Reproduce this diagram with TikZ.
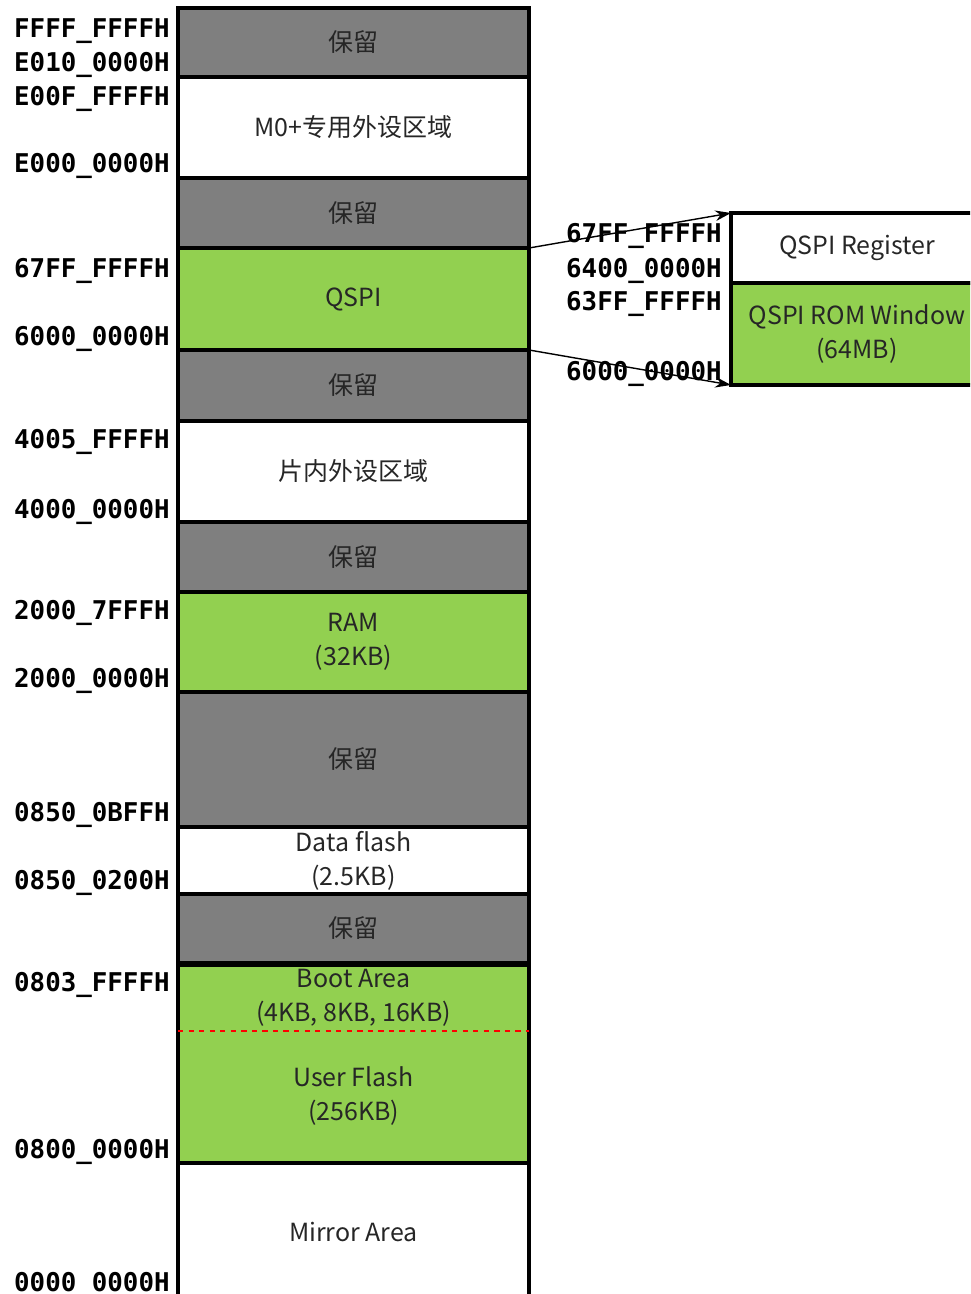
\documentclass[tikz,border=0pt]{standalone}
\usepackage{fontspec}
\setmainfont{Noto Sans CJK SC}
\newfontfamily\addrfont{DejaVu Sans Mono}
\usetikzlibrary{arrows.meta}

\definecolor{resgray}{HTML}{7F7F7F}
\definecolor{memgreen}{HTML}{92D050}
\definecolor{txtgray}{HTML}{262626}

\tikzset{
  region/.style={draw, line width=2pt, minimum width=7.02cm, inner sep=0pt, outer sep=0pt,
    align=center, text=txtgray, font=\fontsize{14.2}{19.3}\selectfont},
  reserved/.style={region, fill=resgray},
  used/.style={region, fill=memgreen},
  addr/.style={anchor=east, inner sep=0pt, yshift=-0.06cm, font=\addrfont\bfseries\fontsize{14.7}{16}\selectfont},
}

\begin{document}
\begin{tikzpicture}[x=0.02cm, y=-0.02cm]
        \useasboundingbox (0,0) rectangle (970,1294);
        \clip (0,0) rectangle (970,1294);
        % memory map
        \node[reserved, minimum height=1.38cm] (res1) at (353.5,42.5) {保留};
        \node[region, minimum height=2.02cm] (m0) at (353.5,127.5) {M0+专用外设区域};
        \node[reserved, minimum height=1.40cm] (res2) at (353.5,213) {保留};
        \node[used, minimum height=2.04cm] (qspi) at (353.5,299) {QSPI};
        \node[reserved, minimum height=1.42cm] (res3) at (353.5,385.5) {保留};
        \node[region, minimum height=2.02cm] (periph) at (353.5,471.5) {片内外设区域};
        \node[reserved, minimum height=1.40cm] (res4) at (353.5,557) {保留};
        \node[used, minimum height=2.00cm] (ram) at (353.5,642) {RAM\\(32KB)};
        \node[reserved, minimum height=2.70cm] (res5) at (353.5,759.5) {保留};
        \node[region, minimum height=1.34cm] (dflash) at (353.5,860.5) {Data flash\\(2.5KB)};
        \node[reserved, minimum height=1.38cm] (res6) at (353.5,928.5) {保留};
        \node[used, draw=none, minimum height=1.32cm] (boot) at (353.5,998) {Boot Area\\(4KB, 8KB, 16KB)};
        \node[used, draw=none, minimum height=2.68cm] (user) at (353.5,1096) {User Flash\\(256KB)};
        \draw[line width=2pt] (boot.north west) rectangle (user.south east);
        \draw[red, dashed, line width=0.7pt] (boot.south west) -- (boot.south east);
        \node[region, draw=none, minimum height=2.76cm] (mirror) at (353.5,1232) {Mirror Area};
        \draw[line width=2pt] (mirror.south west) -- (mirror.north west) -- (mirror.north east) -- (mirror.south east);
        % qspi detail
        \node[region, minimum width=5.04cm, minimum height=1.40cm] (reg) at (857,248) {QSPI Register};
        \node[used, minimum width=5.04cm, minimum height=2.04cm] (rom) at (857,334) {QSPI ROM Window\\(64MB)};
        % addresses
        \node[addr] (a1) at (170,28) {FFFF\_FFFFH};
        \node[addr] (a2) at (170,62) {E010\_0000H};
        \node[addr] (a3) at (170,96) {E00F\_FFFFH};
        \node[addr] (a4) at (170,163) {E000\_0000H};
        \node[addr] (a5) at (170,268) {67FF\_FFFFH};
        \node[addr] (a6) at (170,336) {6000\_0000H};
        \node[addr] (a7) at (170,439) {4005\_FFFFH};
        \node[addr] (a8) at (170,509) {4000\_0000H};
        \node[addr] (a9) at (170,610) {2000\_7FFFH};
        \node[addr] (a10) at (170,678) {2000\_0000H};
        \node[addr] (a11) at (170,812) {0850\_0BFFH};
        \node[addr] (a12) at (170,880) {0850\_0200H};
        \node[addr] (a13) at (170,982) {0803\_FFFFH};
        \node[addr] (a14) at (170,1149) {0800\_0000H};
        \node[addr] (a15) at (170,1282) {0000\_0000H};
        \node[addr] (b1) at (722,233) {67FF\_FFFFH};
        \node[addr] (b2) at (722,268) {6400\_0000H};
        \node[addr] (b3) at (722,301) {63FF\_FFFFH};
        \node[addr] (b4) at (722,371) {6000\_0000H};
        % arrows
        \draw[-{Stealth[length=9pt,width=6pt]}, line width=0.8pt] (qspi.north east) -- (reg.north west);
        \draw[-{Stealth[length=9pt,width=6pt]}, line width=0.8pt] (qspi.south east) -- (rom.south west);
    \end{tikzpicture}
\end{document}
